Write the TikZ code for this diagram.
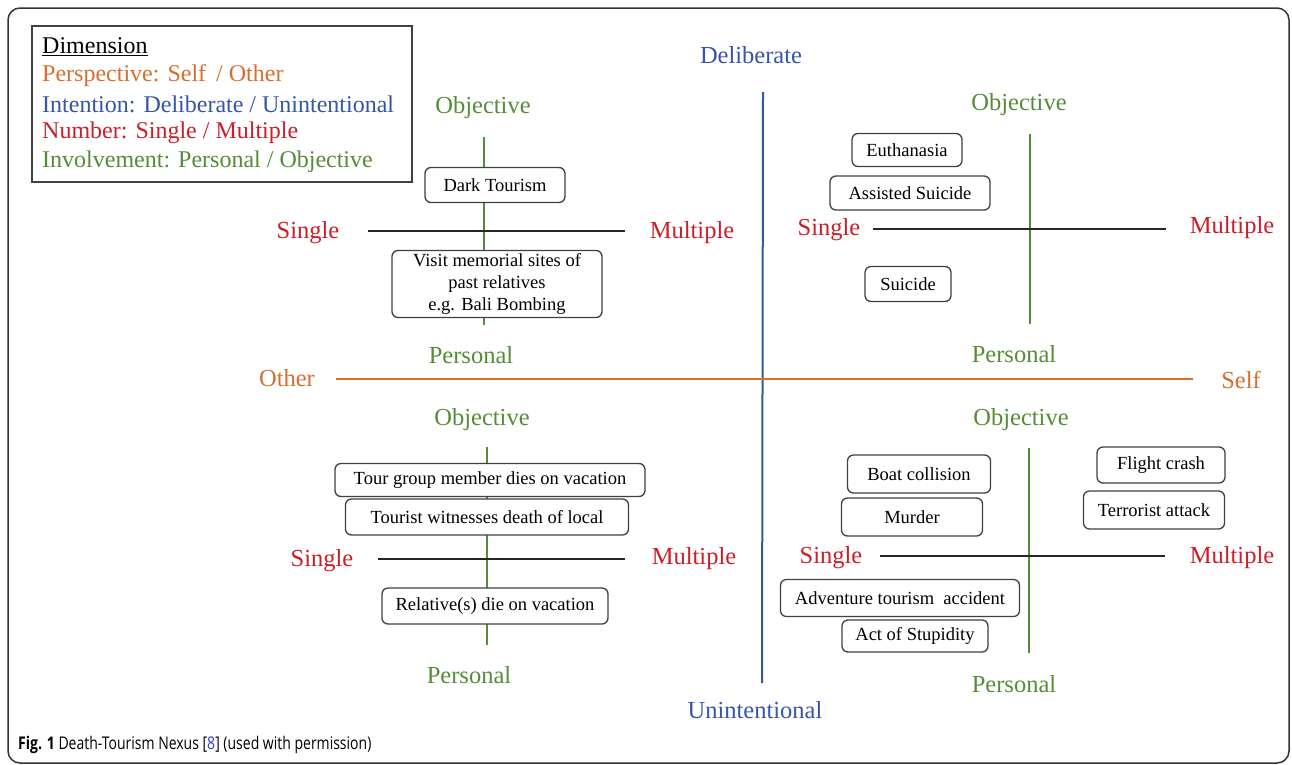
\documentclass[tikz,border=0pt]{standalone}
\usepackage{fontspec}
\setmainfont{Liberation Serif}
\newfontfamily\capfont[FakeStretch=0.8]{Open Sans}
\definecolor{ora}{RGB}{214,110,46}
\definecolor{blu}{RGB}{55,85,165}
\definecolor{rd}{RGB}{205,30,40}
\definecolor{grn}{RGB}{85,140,55}
\definecolor{linkblue}{RGB}{40,60,230}
\begin{document}
\begin{tikzpicture}[x=1pt,y=-1pt,
  lab/.style={font=\fontsize{24.5}{24.5}\selectfont, inner sep=0pt},
  legtext/.style={anchor=west, inner sep=0pt, font=\fontsize{24}{24}\selectfont},
  ev/.style={draw=black!75, line width=1.3pt, rounded corners=6pt, fill=white, inner sep=0pt, align=center, font=\fontsize{18.5}{21}\selectfont},
  axisline/.style={line width=2pt},
  invline/.style={grn, line width=1.6pt},
  numline/.style={black!85, line width=1.8pt}]
\useasboundingbox (0,0) rectangle (1292,764);
% outer frame
\draw[black!80, line width=1.5pt, rounded corners=12pt] (8,8) rectangle (1289,763);
% legend
\node[draw=black!75, line width=1.5pt, minimum width=380pt, minimum height=156pt, inner sep=0pt] (leg) at (222,104) {};
\node[legtext] (l0) at (42,47) {\underline{Dimension}};
\node[legtext, text=ora] (l1) at (42,76) {Perspective: Self\, / Other};
\node[legtext, text=blu] (l2) at (42,104) {Intention: Deliberate / Unintentional};
\node[legtext, text=rd] (l3) at (42,133) {Number: Single / Multiple};
\node[legtext, text=grn] (l4) at (42,162) {Involvement: Personal / Objective};
% main axes
\coordinate (vt) at (763,92); \coordinate (vb) at (762,683);
\coordinate (hl) at (336,379); \coordinate (hr) at (1193,379);
\draw[axisline, blu] (vt) -- (vb);
\draw[axisline, ora] (hl) -- (hr);
\node[lab, text=blu] (delib) at (751,55) {Deliberate};
\node[lab, text=blu] (unint) at (755,710) {Unintentional};
\node[lab, text=ora] (other) at (287,378) {Other};
\node[lab, text=ora] (self) at (1241,380) {Self};
% ---------- top-left
\coordinate (tlgt) at (484,137); \coordinate (tlgb) at (484,325);
\coordinate (tlbl) at (368,231); \coordinate (tlbr) at (625,231);
\draw[invline] (tlgt) -- (tlgb);
\draw[numline] (tlbl) -- (tlbr);
\node[lab, text=grn] (tlobj) at (483,108) {Objective};
\node[lab, text=grn] (tlper) at (471,355) {Personal};
\node[lab, text=rd] (tlsin) at (308,233) {Single};
\node[lab, text=rd] (tlmul) at (692,233) {Multiple};
\node[ev, minimum width=140pt, minimum height=35pt] (dark) at (495,185) {Dark Tourism};
\node[ev, minimum width=210pt, minimum height=67pt, font=\fontsize{18.5}{22}\selectfont] (visit) at (497,284) {Visit memorial sites of\\past relatives\\e.g. Bali Bombing};
% ---------- top-right
\coordinate (trgt) at (1030,134); \coordinate (trgb) at (1030,324);
\coordinate (trbl) at (873,229); \coordinate (trbr) at (1166,229);
\draw[invline] (trgt) -- (trgb);
\draw[numline] (trbl) -- (trbr);
\node[lab, text=grn] (trobj) at (1019,105) {Objective};
\node[lab, text=grn] (trper) at (1014,354) {Personal};
\node[lab, text=rd] (trsin) at (829,230) {Single};
\node[lab, text=rd] (trmul) at (1232,228) {Multiple};
\node[ev, minimum width=110pt, minimum height=33pt] (euth) at (907,150) {Euthanasia};
\node[ev, minimum width=160pt, minimum height=34pt] (assist) at (910,193) {Assisted Suicide};
\node[ev, minimum width=86pt, minimum height=35pt] (suic) at (908,284) {Suicide};
% ---------- bottom-left
\coordinate (blgt) at (487,447); \coordinate (blgb) at (487,645);
\coordinate (blbl) at (378,559); \coordinate (blbr) at (625,559);
\draw[invline] (blgt) -- (blgb);
\draw[numline] (blbl) -- (blbr);
\node[lab, text=grn] (blobj) at (482,420) {Objective};
\node[lab, text=grn] (blper) at (469,675) {Personal};
\node[lab, text=rd] (blsin) at (322,561) {Single};
\node[lab, text=rd] (blmul) at (694,559) {Multiple};
\node[ev, minimum width=310pt, minimum height=33pt] (tour) at (490,480) {Tour group member dies on vacation};
\node[ev, minimum width=283pt, minimum height=36pt] (witn) at (487,517) {Tourist witnesses death of local};
\node[ev, minimum width=226pt, minimum height=36pt] (rel) at (495,606) {Relative(s) die on vacation};
% ---------- bottom-right
\coordinate (brgt) at (1029,448); \coordinate (brgb) at (1029,653);
\coordinate (brbl) at (880,556); \coordinate (brbr) at (1165,556);
\draw[invline] (brgt) -- (brgb);
\draw[numline] (brbl) -- (brbr);
\node[lab, text=grn] (brobj) at (1021,420) {Objective};
\node[lab, text=grn] (brper) at (1014,684) {Personal};
\node[lab, text=rd] (brsin) at (831,558) {Single};
\node[lab, text=rd] (brmul) at (1232,558) {Multiple};
\node[ev, minimum width=143pt, minimum height=38pt] (boat) at (919,474) {Boat collision};
\node[ev, minimum width=141pt, minimum height=38pt] (murd) at (912,517) {Murder};
\node[ev, minimum width=128pt, minimum height=36pt] (flight) at (1161,465) {Flight crash};
\node[ev, minimum width=141pt, minimum height=38pt] (terr) at (1154,510) {Terrorist attack};
\node[ev, minimum width=239pt, minimum height=37pt] (adv) at (900,598) {Adventure tourism\ \ accident};
\node[ev, minimum width=146pt, minimum height=32pt] (stup) at (915,636) {Act of Stupidity};
% caption
\node[anchor=west, inner sep=0pt, font=\capfont\fontsize{17.5}{19}\selectfont] (cap) at (18,745) {\textbf{Fig. 1} Death-Tourism Nexus [\textcolor{linkblue}{8}] (used with permission)};
\end{tikzpicture}
\end{document}
